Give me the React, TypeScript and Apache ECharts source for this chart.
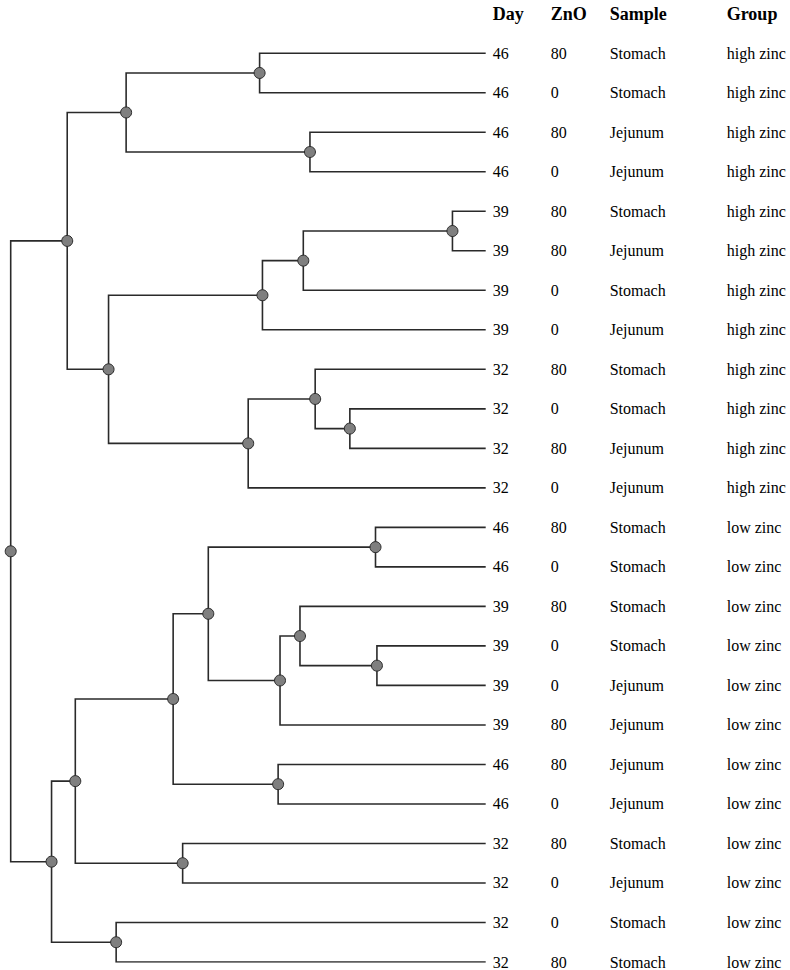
import React, { useEffect, useRef } from "react";
import * as echarts from "echarts";

// Leaf table (top to bottom)
const days = [46, 46, 46, 46, 39, 39, 39, 39, 32, 32, 32, 32, 46, 46, 39, 39, 39, 39, 46, 46, 32, 32, 32, 32];
const zno = [80, 0, 80, 0, 80, 80, 0, 0, 80, 0, 80, 0, 80, 0, 80, 0, 0, 80, 80, 0, 80, 0, 0, 80];
const samples = [
  "Stomach", "Stomach", "Jejunum", "Jejunum", "Stomach", "Jejunum", "Stomach", "Jejunum",
  "Stomach", "Stomach", "Jejunum", "Jejunum", "Stomach", "Stomach", "Stomach", "Stomach",
  "Jejunum", "Jejunum", "Jejunum", "Jejunum", "Stomach", "Jejunum", "Stomach", "Stomach",
];
const groups = [
  "high zinc", "high zinc", "high zinc", "high zinc", "high zinc", "high zinc",
  "high zinc", "high zinc", "high zinc", "high zinc", "high zinc", "high zinc",
  "low zinc", "low zinc", "low zinc", "low zinc", "low zinc", "low zinc",
  "low zinc", "low zinc", "low zinc", "low zinc", "low zinc", "low zinc",
];
const headers = ["Day", "ZnO", "Sample", "Group"];

// Merge steps: [childA, childB, height]; leaves are 0..23, merges get ids 24, 25, ...
const merges: [number, number, number][] = [
  [0, 1, 47.6],   // 24
  [2, 3, 37.0],   // 25
  [24, 25, 75.7], // 26
  [4, 5, 7.0],    // 27
  [27, 6, 38.4],  // 28
  [28, 7, 47.0],  // 29
  [9, 10, 28.6],  // 30
  [8, 30, 35.9],  // 31
  [31, 11, 50.0], // 32
  [29, 32, 79.4], // 33
  [26, 33, 88.1], // 34
  [12, 13, 23.2], // 35
  [15, 16, 22.9], // 36
  [14, 36, 39.1], // 37
  [37, 17, 43.3], // 38
  [35, 38, 58.4], // 39
  [18, 19, 43.7], // 40
  [39, 40, 65.8], // 41
  [20, 21, 63.8], // 42
  [41, 42, 86.4], // 43
  [22, 23, 77.8], // 44
  [43, 44, 91.4], // 45
  [34, 45, 100],  // 46 root
];

const FONT = "'Liberation Serif', 'Times New Roman', Times, serif";

export default function App() {
  const ref = useRef<HTMLDivElement>(null);

  useEffect(() => {
    if (!ref.current) return;
    const chart = echarts.init(ref.current, null, { renderer: "svg" });

    const n = days.length;
    const pos: { h: number; y: number }[] = [];
    for (let i = 0; i < n; i++) pos.push({ h: 0, y: i + 1 });
    const links: { coords: number[][] }[] = [];
    const nodes: number[][] = [];
    merges.forEach(([a, b, h]) => {
      const pa = pos[a];
      const pb = pos[b];
      const y = (pa.y + pb.y) / 2;
      links.push({ coords: [[pa.h, pa.y], [h, pa.y], [h, pb.y], [pb.h, pb.y]] });
      pos.push({ h, y });
      nodes.push([h, y]);
    });

    const reg = { fontSize: 16, fontFamily: FONT, color: "#000" };
    const bold = { fontSize: 18, fontWeight: "bold", fontFamily: FONT, color: "#000" };

    chart.setOption({
      animation: false,
      grid: { left: 10.7, right: 304.3, top: 13.7, bottom: 5.9, containLabel: false },
      xAxis: {
        type: "value",
        min: 0,
        max: 100,
        inverse: true,
        show: false,
      },
      yAxis: {
        type: "value",
        min: 0,
        max: 24,
        interval: 1,
        inverse: true,
        position: "right",
        axisLine: { show: false },
        axisTick: { show: false },
        splitLine: { show: false },
        axisLabel: {
          margin: 7,
          fontFamily: FONT,
          fontSize: 16,
          color: "#000",
          showMinLabel: true,
          showMaxLabel: true,
          formatter: (v: number) => {
            if (v === 0) {
              return `{hd|${headers[0]}}{hz|${headers[1]}}{hs|${headers[2]}}{hg|${headers[3]}}`;
            }
            const i = v - 1;
            return `{d|${days[i]}}{z|${zno[i]}}{s|${samples[i]}}{g|${groups[i]}}`;
          },
          rich: {
            d: { width: 58, ...reg },
            z: { width: 59, ...reg },
            s: { width: 117, ...reg },
            g: { width: 70, ...reg },
            hd: { width: 58, ...bold },
            hz: { width: 59, ...bold },
            hs: { width: 117, ...bold },
            hg: { width: 70, ...bold },
          },
        },
      },
      series: [
        {
          type: "lines",
          coordinateSystem: "cartesian2d",
          polyline: true,
          silent: true,
          lineStyle: { color: "#2a2a2a", width: 1.6, opacity: 1 },
          data: links,
        },
        {
          type: "scatter",
          silent: true,
          symbol: "circle",
          symbolSize: 11,
          itemStyle: { color: "#7f7f7f", borderColor: "#2a2a2a", borderWidth: 1, opacity: 1 },
          data: nodes,
        },
      ],
    });

    return () => chart.dispose();
  }, []);

  return (
    <div
      ref={ref}
      style={{ position: "absolute", left: 0, top: 0, width: 790, height: 970, background: "#fff" }}
    />
  );
}
